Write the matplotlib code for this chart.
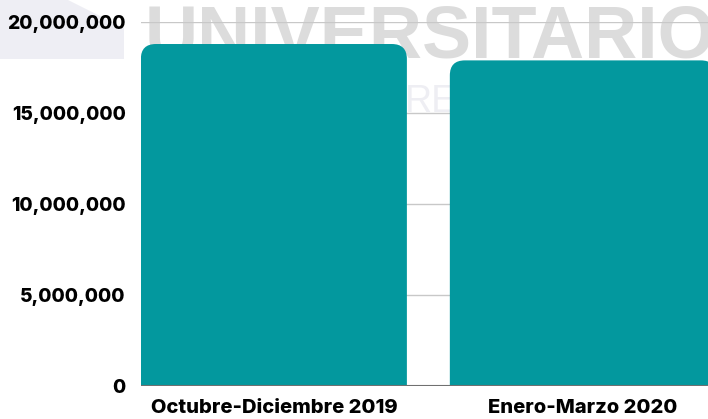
import matplotlib.pyplot as plt
from matplotlib.patches import FancyBboxPatch, Polygon
from matplotlib.ticker import FuncFormatter

# Data
categories = ["Octubre-Diciembre 2019", "Enero-Marzo 2020"]
values = [18800000, 17900000]
y_ticks = [0, 5000000, 10000000, 15000000, 20000000]

W, H = 708, 419
fig = plt.figure(figsize=(W / 100, H / 100), dpi=100)

# faint watermark behind the chart
fig.patches.append(Polygon([[0, 1], [68 / W, 1], [124 / W, 1 - 28 / H],
                            [124 / W, 1 - 59 / H], [0, 1 - 59 / H]],
                           closed=True, transform=fig.transFigure,
                           facecolor="#eeeef4", edgecolor="none", zorder=-2))
fig.text(145 / W, 1 - 58 / H, "UNIVERSITARIO", fontsize=53, fontweight="bold",
         family="Liberation Sans", color="#dcdcdc", ha="left", va="baseline",
         zorder=-1)
fig.text(405 / W, 1 - 112 / H, "RE", fontsize=27, family="Liberation Sans",
         color="#eeeef3", ha="left", va="baseline", zorder=-1)

ax = fig.add_axes([141 / W, 33 / H, 567 / W, 364 / H])
ax.patch.set_alpha(0)

x = list(range(len(categories)))
width = 0.861
xmin, xmax = -0.43, 1.405
ymin, ymax = 0, 20000000
ax.set_xlim(xmin, xmax)
ax.set_ylim(ymin, ymax * 1.0005)

# aspect to make the corner rounding circular on screen
aspect = ((ymax - ymin) / 364) / ((xmax - xmin) / 567)
r = 15 * (xmax - xmin) / 567
for xi, v in zip(x, values):
    p = FancyBboxPatch((xi - width / 2, -2000000), width, v + 2000000,
                       boxstyle="round,pad=0,rounding_size=%f" % r,
                       mutation_aspect=aspect, facecolor="#03989e",
                       edgecolor="none", zorder=3, clip_on=True)
    ax.add_patch(p)

ax.set_yticks(y_ticks)
ax.yaxis.set_major_formatter(FuncFormatter(lambda v, p: f"{int(v):,}"))
ax.set_xticks(x)
ax.set_xticklabels(categories)
ax.grid(axis="y", color="#c8c8c8", linewidth=1, zorder=1)
ax.axhline(0, color="#707070", linewidth=1.5, zorder=4)

for s in ax.spines.values():
    s.set_visible(False)
ax.tick_params(length=0)
ax.tick_params(axis="y", pad=11)
ax.tick_params(axis="x", pad=9.5)
for lbl in ax.get_yticklabels():
    lbl.set_family("Inter")
    lbl.set_fontweight("heavy")
    lbl.set_fontsize(13.8)
    lbl.set_color("#000000")
for lbl in ax.get_xticklabels():
    lbl.set_family("Inter")
    lbl.set_fontweight("heavy")
    lbl.set_fontsize(14.5)
    lbl.set_color("#000000")

fig.savefig("out.png", dpi=100)
